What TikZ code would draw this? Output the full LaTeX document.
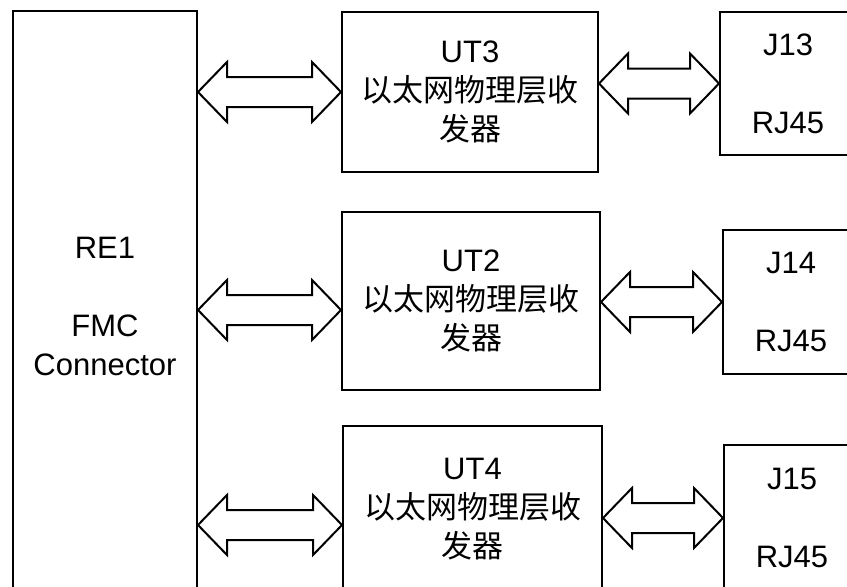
\documentclass[tikz,border=0pt]{standalone}
\usepackage{fontspec}
\setmainfont{Liberation Sans}
\newfontfamily\cjk{Noto Sans CJK SC}
\usetikzlibrary{calc}

% hollow double-headed bus arrow between two points at one height
\newcommand{\busarrow}[2]{%
  \draw[busline] let \p1=(#1), \p2=(#2) in
    (\x1,\y1) -- (\x1+29pt,\y1+30pt) -- (\x1+29pt,\y1+15pt)
    -- (\x2-29pt,\y1+15pt) -- (\x2-29pt,\y1+30pt) -- (\x2,\y1)
    -- (\x2-29pt,\y1-30pt) -- (\x2-29pt,\y1-15pt)
    -- (\x1+29pt,\y1-15pt) -- (\x1+29pt,\y1-30pt) -- cycle;}

\begin{document}
\begin{tikzpicture}[x=1pt,y=-1pt,
    box/.style={draw, line width=2pt, inner sep=0pt, anchor=north west,
      align=center, font=\fontsize{31}{39}\selectfont},
    busline/.style={line width=2pt, line join=miter}]
					\clip (0,0) rectangle (847,587);

					\begin{scope}
						\node[box, minimum width=184pt, minimum height=590pt] (RE1) at (12,10) {RE1\\~\\FMC\\Connector};
						\node[box, minimum width=256pt, minimum height=160pt] (UT3) at (341,11) {UT3\\{\cjk 以太网物理层收}\\{\cjk 发器}};
						\node[box, minimum width=258pt, minimum height=178pt] (UT2) at (341,211) {UT2\\{\cjk 以太网物理层收}\\{\cjk 发器}};
						\node[box, minimum width=259pt, minimum height=166pt] (UT4) at (342,425) {UT4\\{\cjk 以太网物理层收}\\{\cjk 发器}};
						\node[box, minimum width=136pt, minimum height=143pt] (J13) at (719,11) {J13\\~\\RJ45};
						\node[box, minimum width=136pt, minimum height=144pt] (J14) at (722,229) {J14\\~\\RJ45};
						\node[box, minimum width=136pt, minimum height=146pt] (J15) at (723,444) {J15\\~\\RJ45};
					\end{scope}

					\begin{scope}
						\coordinate (p3) at (UT3.west);
						\coordinate (p2) at ([yshift=-9pt]UT2.west);
						\coordinate (p4) at ([yshift=-16pt]UT4.west);
						\busarrow{RE1.east |- p3}{p3}
						\busarrow{RE1.east |- p2}{p2}
						\busarrow{RE1.east |- p4}{p4}
						\busarrow{UT3.east |- J13.west}{J13.west}
						\busarrow{UT2.east |- J14.west}{J14.west}
						\busarrow{UT4.east |- J15.west}{J15.west}
					\end{scope}
				\end{tikzpicture}
\end{document}
